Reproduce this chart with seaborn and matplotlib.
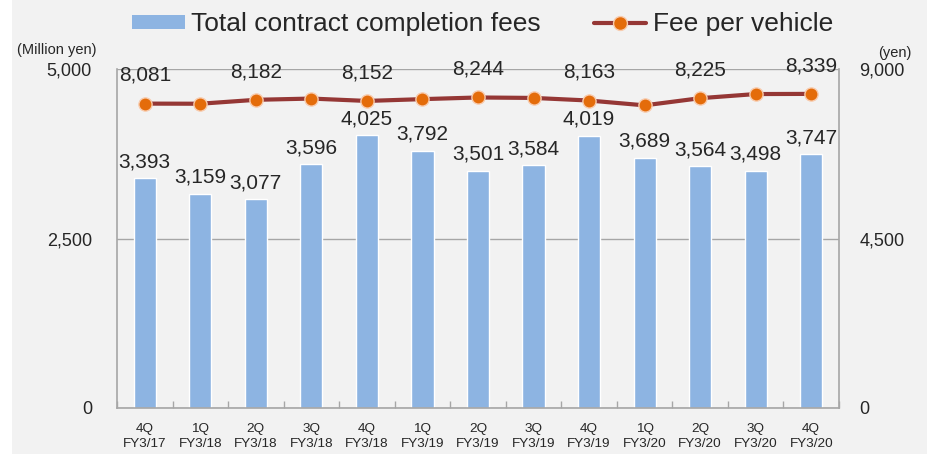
import numpy as np
import pandas as pd
import matplotlib
matplotlib.use("Agg")
import matplotlib.pyplot as plt
from matplotlib.patches import Patch, Rectangle
from matplotlib.lines import Line2D
import seaborn as sns

# data
quarters = ["4Q", "1Q", "2Q", "3Q", "4Q", "1Q", "2Q", "3Q", "4Q", "1Q", "2Q", "3Q", "4Q"]
fiscal_years = ["FY3/17", "FY3/18", "FY3/18", "FY3/18", "FY3/18", "FY3/19", "FY3/19",
                "FY3/19", "FY3/19", "FY3/20", "FY3/20", "FY3/20", "FY3/20"]
completion_fees = [3393, 3159, 3077, 3596, 4025, 3792, 3501, 3584, 4019, 3689, 3564, 3498, 3747]
fee_per_vehicle = [8081, 8078, 8182, 8215, 8152, 8200, 8244, 8232, 8163, 8035, 8225, 8335, 8339]
labelled_fee_points = [0, 2, 4, 6, 8, 10, 12]

bar_color = "#8DB4E2"
line_color = "#953735"
marker_color = "#E46C0A"
bg_color = "#F2F2F2"
grid_color = "#A6A6A6"

sns.set_theme(style="white")
plt.rcParams["font.family"] = ["Liberation Sans", "DejaVu Sans"]

labels = [f"{q}\n{fy}" for q, fy in zip(quarters, fiscal_years)]
df = pd.DataFrame({"period": labels, "fees": completion_fees, "fee": fee_per_vehicle})

fig = plt.figure(figsize=(9.28, 4.54), dpi=100, facecolor=bg_color)
fig.patches.append(Rectangle((0, 0), 12 / 928, 1, transform=fig.transFigure,
                             facecolor="white", edgecolor="none", zorder=0))
ax = fig.add_axes([117 / 928, 1 - 408 / 454, (839 - 117) / 928, (408 - 69) / 454])
ax.set_facecolor(bg_color)

sns.barplot(data=df, x="period", y="fees", color=bar_color, saturation=1,
            width=0.4, ax=ax, zorder=2)
ax.set_ylim(0, 5000)
ax.set_yticks([0, 2500, 5000])
ax.set_yticklabels(["0", "2,500", "5,000"], fontsize=13)
ax.tick_params(axis="y", length=0, pad=18)
ax.tick_params(axis="x", length=0, pad=11, labelsize=9.7)
ax.set_xlabel("")
ax.set_ylabel("")
ax.set_xlim(-0.5, len(labels) - 0.5)
for t in ax.get_xticklabels():
    t.set_linespacing(1.25)

# minor ticks between categories, pointing inward
ax.set_xticks(np.arange(-0.5, len(labels), 1), minor=True)
ax.tick_params(axis="x", which="minor", direction="in", length=5, color=grid_color,
               width=1, bottom=True)

ax.grid(axis="y", color=grid_color, linewidth=1, zorder=1)
ax.set_axisbelow(True)
for side in ["left", "bottom", "right"]:
    ax.spines[side].set_color(grid_color)
    ax.spines[side].set_linewidth(1.2)
ax.spines["top"].set_visible(False)

for i, v in enumerate(completion_fees):
    ax.annotate(f"{v:,}", (i, v), xytext=(0, 5), textcoords="offset points",
                ha="center", va="bottom", fontsize=15, zorder=5)

ax2 = ax.twinx()
sns.lineplot(data=df, x="period", y="fee", sort=False, ax=ax2, color=line_color,
             linewidth=3, marker="o", markersize=9.5, markerfacecolor=marker_color,
             markeredgecolor="#F8CBAD", markeredgewidth=1)
ax2.set_ylim(0, 9000)
ax2.set_yticks([0, 4500, 9000])
ax2.set_yticklabels(["0", "4,500", "9,000"], fontsize=13)
ax2.tick_params(axis="y", length=0, pad=14.5)
ax2.set_ylabel("")
ax2.set_xlabel("")
for side in ["left", "bottom", "right", "top"]:
    ax2.spines[side].set_visible(False)

for i in labelled_fee_points:
    ax2.annotate(f"{fee_per_vehicle[i]:,}", (i, fee_per_vehicle[i]), xytext=(0, 13.5),
                 textcoords="offset points", ha="center", va="bottom", fontsize=15)

fig.text(17 / 928, 1 - 50 / 454, "(Million yen)", fontsize=10.5, va="center")
fig.text(878 / 928, 1 - 53 / 454, "(yen)", fontsize=10.5, va="center")

handles = [Patch(facecolor=bar_color, edgecolor="none"),
           Line2D([0], [0], color=line_color, linewidth=3, marker="o", markersize=10,
                  markerfacecolor=marker_color, markeredgecolor="#F8CBAD")]
fig.legend(handles, ["Total contract completion fees", "Fee per vehicle"],
           loc="upper center", bbox_to_anchor=(0.52, 1.025), ncol=2, frameon=False,
           fontsize=19, handlelength=2.0, handleheight=0.45, columnspacing=2.0,
           handletextpad=0.25)

fig.savefig("out.png", dpi=100, facecolor=bg_color)
